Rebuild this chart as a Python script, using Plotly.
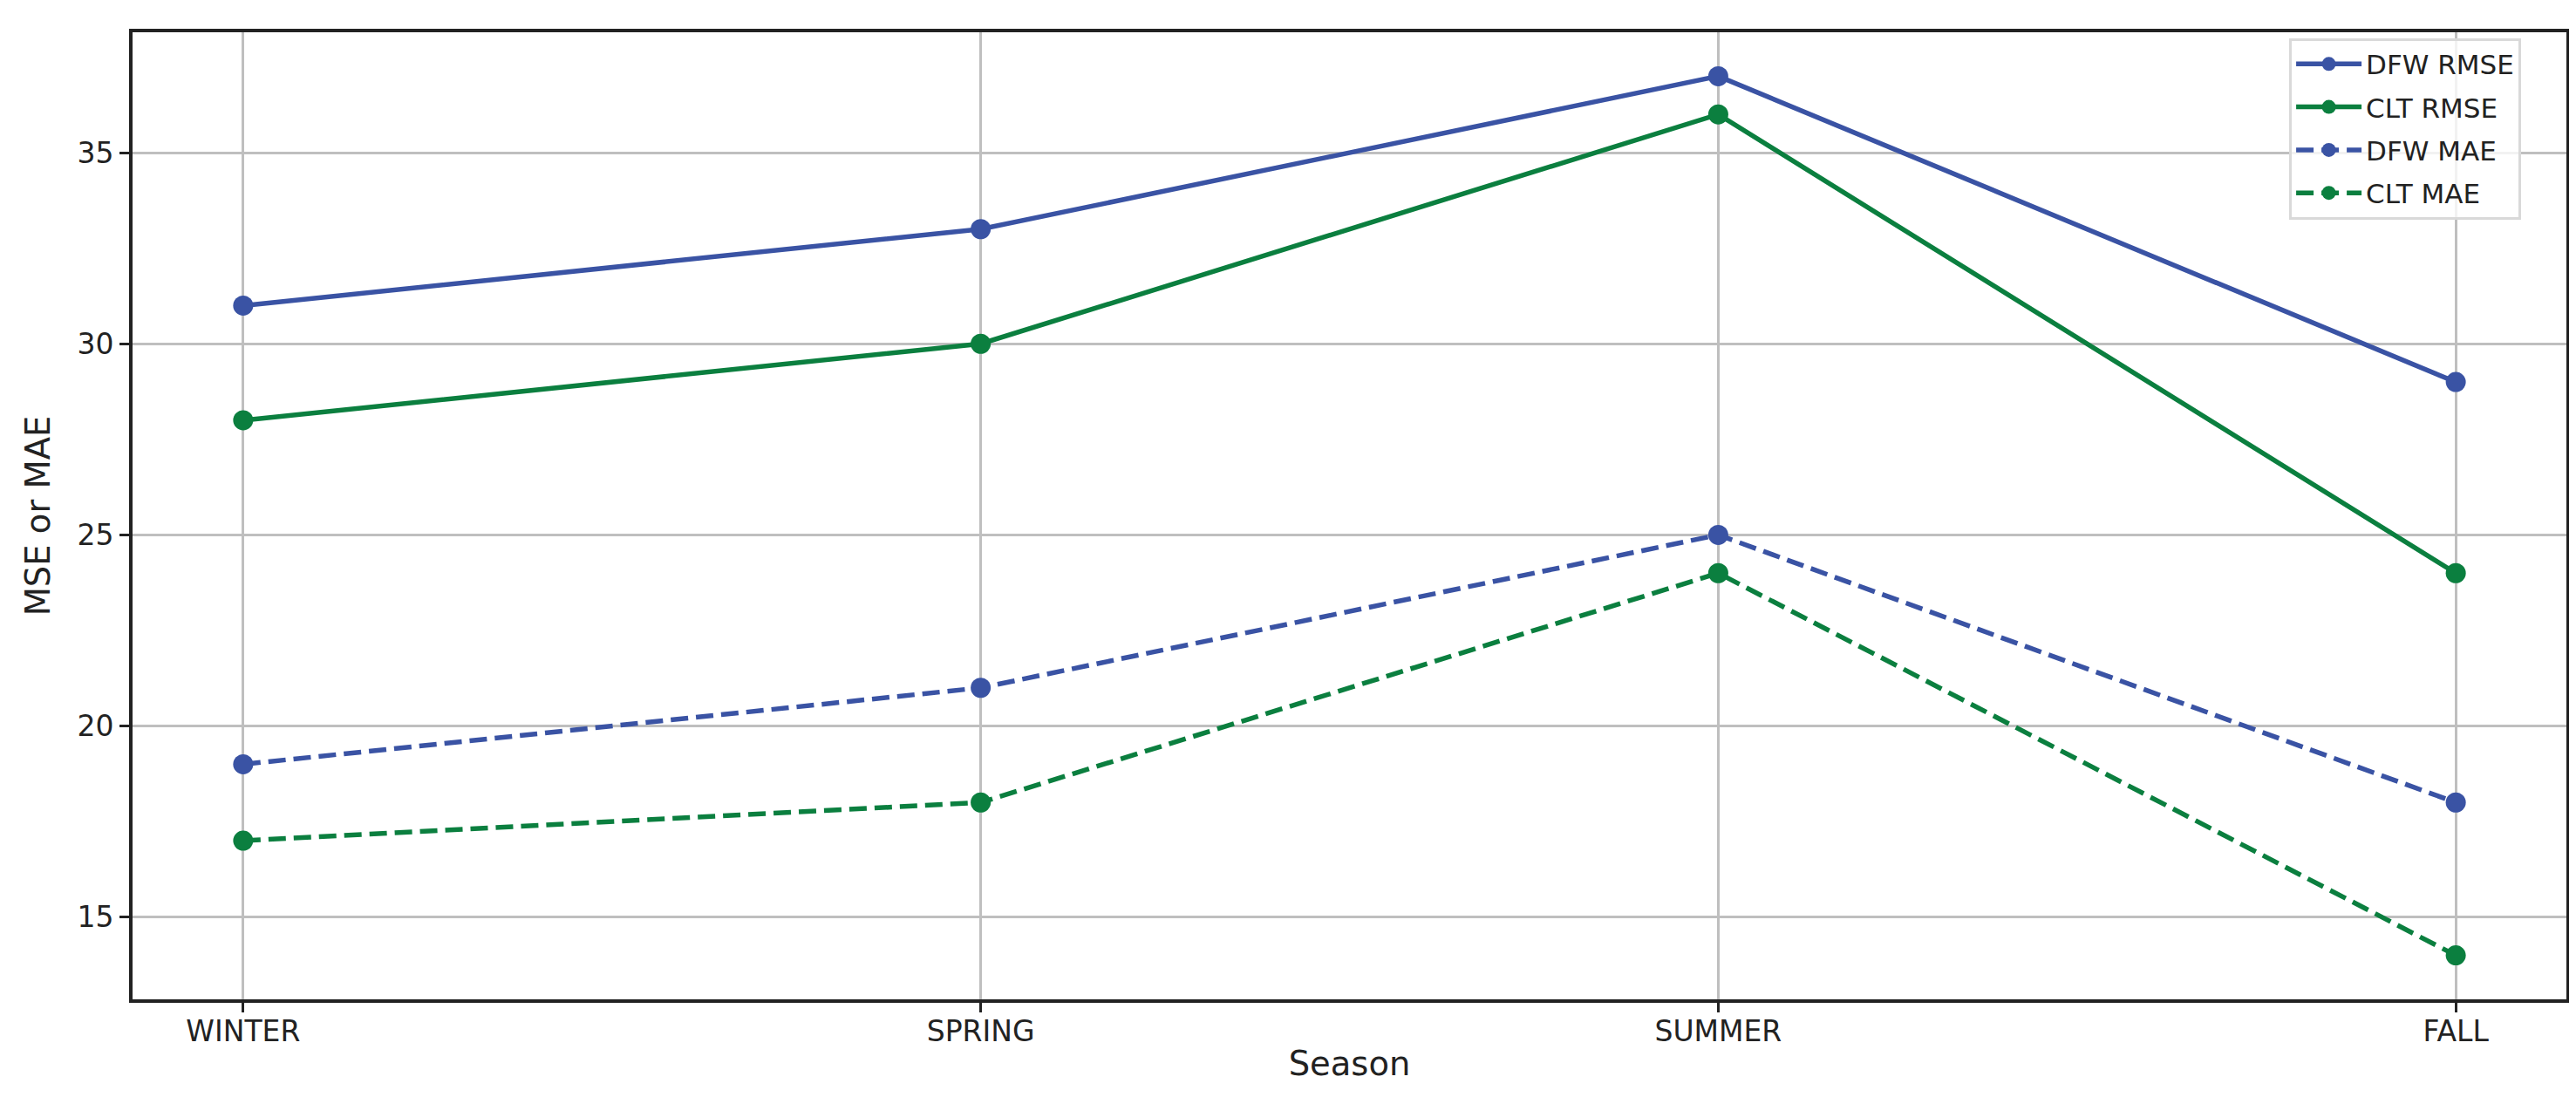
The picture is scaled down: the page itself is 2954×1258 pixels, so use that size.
import plotly.graph_objects as go

seasons = ["WINTER", "SPRING", "SUMMER", "FALL"]
dfw_rmse = [31, 33, 37, 29]
clt_rmse = [28, 30, 36, 24]
dfw_mae = [19, 21, 25, 18]
clt_mae = [17, 18, 24, 14]
y_ticks = [15, 20, 25, 30, 35]

BLUE = "#3A53A4"
GREEN = "#0B7F3F"

fig = go.Figure()
series = [
    ("DFW RMSE", dfw_rmse, BLUE, "solid"),
    ("CLT RMSE", clt_rmse, GREEN, "solid"),
    ("DFW MAE", dfw_mae, BLUE, "20px,9px"),
    ("CLT MAE", clt_mae, GREEN, "20px,9px"),
]
for name, vals, col, dash in series:
    fig.add_trace(go.Scatter(
        x=list(range(len(seasons))), y=vals, name=name, mode="lines+markers",
        legendgroup=name,
        line=dict(color=col, width=5.5, dash=dash),
        marker=dict(color=col, size=23),
    ))

fig.update_layout(
    width=2954, height=1258,
    margin=dict(l=144, r=19, t=29, b=120),
    paper_bgcolor="white", plot_bgcolor="white",
    font=dict(family="DejaVu Sans", color="#222222", size=33),
    showlegend=True,
    legend=dict(
        x=0.9814, y=0.994, xanchor="right", yanchor="top",
        bgcolor="rgba(255,255,255,0.8)", bordercolor="#d9d9d9", borderwidth=3,
        font=dict(size=31, family="DejaVu Sans"), tracegroupgap=6,
        itemwidth=75,
    ),
)
fig.update_xaxes(
    range=[-0.15, 3.15], tickmode="array",
    tickvals=list(range(len(seasons))), ticktext=seasons,
    showgrid=True, gridcolor="#bfbfbf", gridwidth=3,
    showline=True, linecolor="#222222", linewidth=4, mirror=True,
    ticks="outside", ticklen=11, tickwidth=3, tickcolor="#222222",
    zeroline=False, ticklabelstandoff=-7,
    title=dict(text="Season", font=dict(size=38.5), standoff=6),
    automargin=False,
)
fig.update_yaxes(
    range=[12.85, 38.15], tickmode="array", tickvals=y_ticks,
    showgrid=True, gridcolor="#bfbfbf", gridwidth=3,
    showline=True, linecolor="#222222", linewidth=4, mirror=True,
    ticks="outside", ticklen=11, tickwidth=3, tickcolor="#222222",
    zeroline=False,
    title=dict(text="MSE or MAE", font=dict(size=38.5), standoff=20),
    automargin=False,
)
fig.write_html("out.html")
